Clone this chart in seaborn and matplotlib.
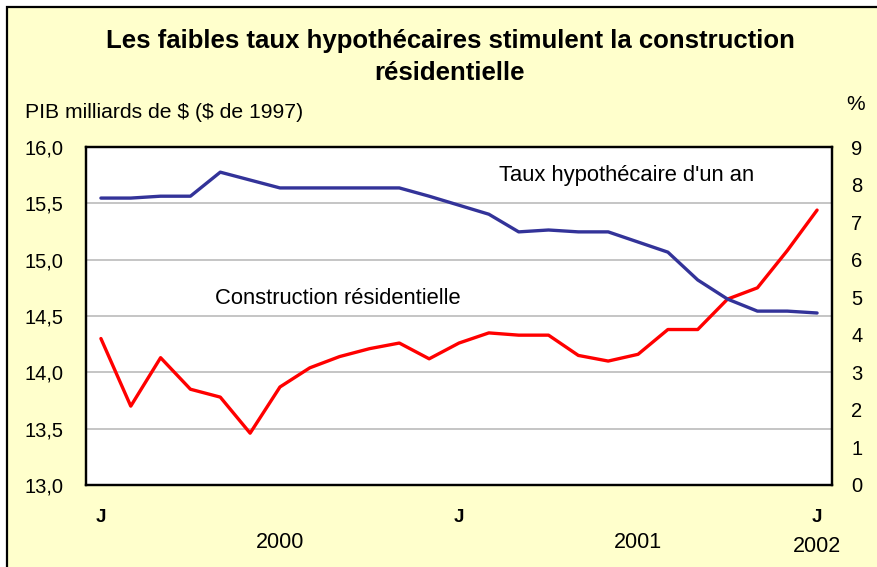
import pandas as pd
import matplotlib.pyplot as plt
import matplotlib.transforms as mtransforms
from matplotlib.patches import Rectangle
import seaborn as sns

# Données mensuelles, janvier 2000 à janvier 2002
mois = list(range(25))
construction = [14.30, 13.70, 14.13, 13.85, 13.78, 13.46, 13.87, 14.04, 14.14, 14.21,
                14.26, 14.12, 14.26, 14.35, 14.33, 14.33, 14.15, 14.10, 14.16, 14.38,
                14.38, 14.65, 14.75, 15.08, 15.44]
taux = [7.64, 7.64, 7.69, 7.69, 8.33, 8.12, 7.91, 7.91, 7.91, 7.91,
        7.91, 7.69, 7.45, 7.21, 6.74, 6.79, 6.74, 6.74, 6.47, 6.20,
        5.46, 4.95, 4.63, 4.63, 4.58]
etiquettes_mois = ['J', 'J', 'J']
pos_mois = [0, 12, 24]
annees = ['2000', '2001', '2002']
pos_annees = [6, 18, 24]
ticks_gauche = [13.0, 13.5, 14.0, 14.5, 15.0, 15.5, 16.0]
ticks_droite = list(range(10))

df = pd.DataFrame({'mois': mois, 'construction': construction, 'taux': taux})

sns.set_style('white')
plt.rcParams['font.family'] = ['Liberation Sans', 'DejaVu Sans']
plt.rcParams['text.color'] = 'black'
plt.rcParams['xtick.color'] = 'black'
plt.rcParams['ytick.color'] = 'black'
plt.rcParams['axes.labelcolor'] = 'black'

fig = plt.figure(figsize=(8.78, 5.67), dpi=100, facecolor='white')
# fond jaune pâle avec bordure noire
fig.patches.append(Rectangle((7 / 878, -0.1), 1.2, (567 - 7) / 567 + 0.1,
                             transform=fig.transFigure, facecolor='#FFFFCC',
                             edgecolor='black', linewidth=1.6, zorder=-5))

ax = fig.add_axes([86 / 878, (567 - 485) / 567, 746 / 878, 338 / 567])
ax.set_facecolor('white')

sns.lineplot(data=df, x='mois', y='construction', ax=ax, color='#FF0000', linewidth=2.4)
ax.set_xlim(-0.5, 24.5)
ax.set_ylim(13.0, 16.0)
ax.set_yticks(ticks_gauche)
ax.set_yticklabels([f'{v:.1f}'.replace('.', ',') for v in ticks_gauche], fontsize=14.5)
ax.grid(axis='y', color='#C0C0C0', linewidth=1.3)
ax.grid(axis='x', visible=False)
ax.set_axisbelow(True)
ax.set_xlabel('')
ax.set_ylabel('')

ax.set_xticks(pos_mois)
ax.set_xticklabels(etiquettes_mois, fontsize=13.5, fontweight='bold')
ax.set_xticks([k + 0.5 for k in range(24)], minor=True)
ax.tick_params(axis='x', which='major', length=0, pad=17)
ax.tick_params(axis='x', which='minor', direction='in', length=5, width=1.2, color='black')
ax.tick_params(axis='y', length=0, pad=16)

ax2 = ax.twinx()
sns.lineplot(data=df, x='mois', y='taux', ax=ax2, color='#333399', linewidth=2.4)
ax2.set_ylim(0, 9)
ax2.set_yticks(ticks_droite)
ax2.set_yticklabels([str(v) for v in ticks_droite], fontsize=14.5)
ax2.tick_params(axis='y', length=0, pad=14)
ax2.set_xlabel('')
ax2.set_ylabel('')
ax2.grid(False)

for a in (ax, ax2):
    for s in a.spines.values():
        s.set_color('black')
        s.set_linewidth(1.6)

# années sous les J
trans = mtransforms.blended_transform_factory(ax.transData, ax.transAxes)
for p, an, yy in zip(pos_annees, annees, [-0.170, -0.170, -0.181]):
    ax.text(p, yy, an, transform=trans, ha='center', va='center', fontsize=15.5)

# étiquettes des séries
ax.text(0.725, 0.917, "Taux hypothécaire d'un an", transform=ax.transAxes,
        ha='center', va='center', fontsize=15.8,
        bbox=dict(facecolor='white', edgecolor='none', pad=2))
ax.text(0.338, 0.553, 'Construction résidentielle', transform=ax.transAxes,
        ha='center', va='center', fontsize=15.8, zorder=5,
        bbox=dict(facecolor='white', edgecolor='none', pad=2))

# titres et unités
fig.text(450 / 878, 1 - 41 / 567, 'Les faibles taux hypothécaires stimulent la construction',
         ha='center', va='center', fontsize=18.5, fontweight='bold')
fig.text(450 / 878, 1 - 73 / 567, 'résidentielle', ha='center', va='center',
         fontsize=18.5, fontweight='bold')
fig.text(25 / 878, 1 - 113 / 567, r'PIB milliards de \$ (\$ de 1997)', ha='left',
         va='center', fontsize=15.2)
fig.text(856 / 878, 1 - 104 / 567, '%', ha='center', va='center', fontsize=15)

fig.savefig('out.png', dpi=100, facecolor=fig.get_facecolor())
